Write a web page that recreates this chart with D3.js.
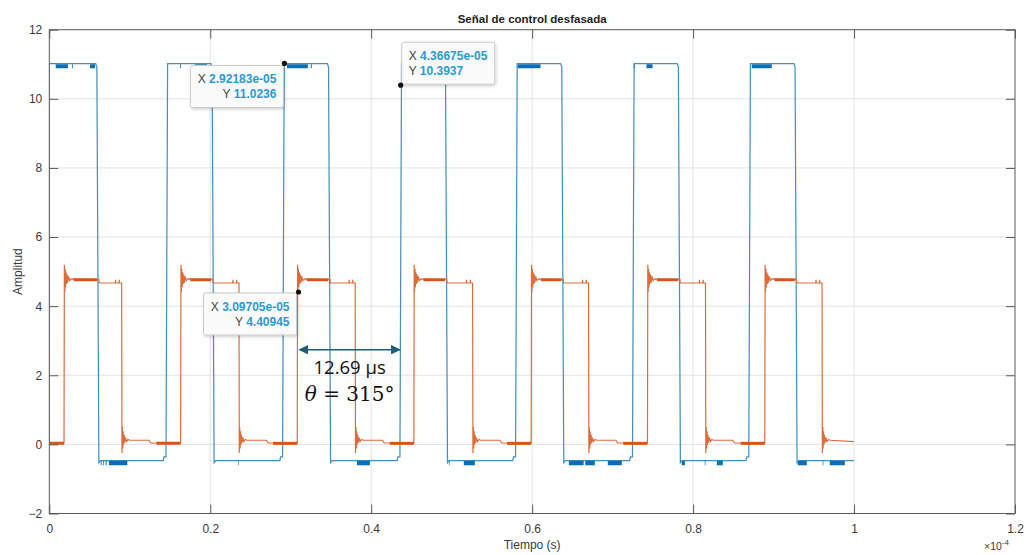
<!DOCTYPE html>
<html>
<head>
  <title>Señal de control desfasada</title>
  <meta charset="utf-8">
  <script src="https://d3js.org/d3.v7.min.js"></script>
  <style>
    body { margin: 0; background: #fff; }
    svg { font-family: "Liberation Sans", Arial, sans-serif; }
  </style>
</head>
<body>
<script>
  // tiempos en unidades de 1e-5 s
  const xTicks = [0, 0.2e-4, 0.4e-4, 0.6e-4, 0.8e-4, 1.0e-4, 1.2e-4];
  const yTicks = [-2, 0, 2, 4, 6, 8, 10, 12];

  const blueRise = [0, 1.450, 2.899, 4.357, 5.794, 7.247, 8.692];
  const blueFall = [0.596, 2.028, 3.475, 4.928, 6.373, 7.822, 9.272];
  const blueLevels = {high: 11.02, droop: 10.92, low: -0.47, undershoot: -0.53, preRise: -0.36};
  const blueHighBands = [[0.080, 0.232], [0.282, 0.292], [0.506, 0.568], [1.624, 1.634], [1.812, 1.959],
    [2.953, 3.213], [3.250, 3.262], [5.822, 6.104], [7.263, 7.272], [7.421, 7.496], [8.729, 8.977]];
  const blueLowBands = [[0.639, 0.650], [0.670, 0.680], [0.700, 0.712], [0.740, 0.969], [2.344, 2.352],
    [3.823, 3.984], [4.966, 4.974], [5.151, 5.288], [6.456, 6.640], [6.660, 6.779], [6.940, 7.114],
    [7.860, 7.898], [8.145, 8.153], [8.295, 8.369], [9.301, 9.413], [9.611, 9.619], [9.698, 9.885]];

  const orangeRise = [0.183, 1.632, 3.081, 4.530, 5.988, 7.433, 8.891];
  const orangeStep = [0.614, 2.030, 3.487, 4.937, 6.385, 7.835, 9.284];
  const orangeFall = [0.899, 2.357, 3.801, 5.260, 6.701, 8.154, 9.602];
  const orangeLevels = {low: 0.04, afterFall: 0.12, high: 4.78, step: 4.67, blip: 4.76, end: 0.08};
  const riseRing = [[0.004, 5.20], [0.009, 4.42], [0.014, 5.08], [0.019, 4.55], [0.025, 4.98], [0.031, 4.64],
    [0.038, 4.92], [0.046, 4.68], [0.056, 4.86], [0.070, 4.74], [0.090, 4.79]];
  const fallRing = [[0.004, -0.25], [0.009, 0.50], [0.014, -0.12], [0.019, 0.38], [0.025, 0.00], [0.031, 0.28],
    [0.038, 0.05], [0.047, 0.20], [0.060, 0.08], [0.078, 0.14], [0.100, 0.12]];
  const tEnd = 10.0;

  const dataTips = [
    {x: 2.92183e-5, y: 11.0236, xs: "2.92183e-05", ys: "11.0236", box: [-94, 2], align: "end"},
    {x: 4.36675e-5, y: 10.3937, xs: "4.36675e-05", ys: "10.3937", box: [1, -43], align: "start"},
    {x: 3.09705e-5, y: 4.40945, xs: "3.09705e-05", ys: "4.40945", box: [-95, 1], align: "end"}
  ];
  const gap = {from: 3.09705e-5, to: 4.36675e-5, y: 2.74, label: "12.69 µs", angle: "315°"};

  var width = 1025, height = 555;
  var margin = {top: 29.7, right: 10, bottom: 41.5, left: 49.3};

  var svg = d3.select("body").append("svg")
    .attr("width", width)
    .attr("height", height);

  var x = d3.scaleLinear()
    .domain([0, 1.2e-4])
    .range([margin.left, width - margin.right]);

  var y = d3.scaleLinear()
    .domain([-2, 12])
    .range([height - margin.bottom, margin.top]);

  var defs = svg.append("defs");
  defs.append("clipPath").attr("id", "plot")
    .append("rect")
      .attr("x", x(0)).attr("y", y(12))
      .attr("width", x(1.2e-4) - x(0)).attr("height", y(-2) - y(12));
  var shadow = defs.append("filter").attr("id", "shadow")
    .attr("x", "-20%").attr("y", "-20%").attr("width", "140%").attr("height", "150%");
  shadow.append("feDropShadow")
    .attr("dx", 1).attr("dy", 1.5).attr("stdDeviation", 1.5)
    .attr("flood-color", "#000").attr("flood-opacity", 0.18);
  defs.append("marker").attr("id", "arrow")
    .attr("viewBox", "0 0 10 10").attr("refX", 9).attr("refY", 5)
    .attr("markerWidth", 6).attr("markerHeight", 6).attr("orient", "auto-start-reverse")
    .append("path").attr("d", "M0,0L10,5L0,10z").attr("fill", "#1d5d7b");

  // rejilla
  svg.append("g")
    .attr("stroke", "#e3e3e3").attr("stroke-width", 1)
    .selectAll("line").data(xTicks.slice(1, -1)).join("line")
      .attr("x1", d => x(d)).attr("x2", d => x(d))
      .attr("y1", y(12)).attr("y2", y(-2));
  svg.append("g")
    .attr("stroke", "#e3e3e3").attr("stroke-width", 1)
    .selectAll("line").data(yTicks.slice(1, -1)).join("line")
      .attr("x1", x(0)).attr("x2", x(1.2e-4))
      .attr("y1", d => y(d)).attr("y2", d => y(d));

  // señales
  var T = 1e-5;
  var line = d3.line().x(d => x(d[0] * T)).y(d => y(d[1]));

  var bluePts = [[0, 0]];
  blueRise.forEach(function(r, i) {
    var f = blueFall[i];
    if (i > 0) {
      bluePts.push([r - 0.035, blueLevels.low], [r - 0.025, blueLevels.preRise], [r, blueLevels.preRise]);
    }
    bluePts.push([r + (i > 0 ? 0.02 : 0), blueLevels.high]);
    bluePts.push([f - 0.02, blueLevels.high], [f - 0.005, blueLevels.droop]);
    bluePts.push([f + 0.02, blueLevels.undershoot], [f + 0.04, blueLevels.low]);
  });
  bluePts.push([tEnd, blueLevels.low]);

  var orangePts = [[0, orangeLevels.low]];
  orangeRise.forEach(function(r, i) {
    var s = orangeStep[i], f = orangeFall[i];
    orangePts.push([r, orangeLevels.low]);
    riseRing.forEach(p => orangePts.push([r + p[0], p[1]]));
    orangePts.push([s, orangeLevels.high], [s + 0.006, orangeLevels.step]);
    orangePts.push([f - 0.078, orangeLevels.step], [f - 0.075, orangeLevels.blip], [f - 0.072, orangeLevels.step]);
    orangePts.push([f - 0.032, orangeLevels.step], [f - 0.029, orangeLevels.blip], [f - 0.026, orangeLevels.step]);
    orangePts.push([f, orangeLevels.step]);
    fallRing.forEach(p => orangePts.push([f + p[0], p[1]]));
    if (i < orangeRise.length - 1) {
      orangePts.push([f + 0.34, orangeLevels.afterFall], [f + 0.36, orangeLevels.low]);
    } else {
      orangePts.push([tEnd, orangeLevels.end]);
    }
  });

  var traces = svg.append("g").attr("clip-path", "url(#plot)").attr("fill", "none");

  traces.append("path")
    .datum(bluePts)
    .attr("stroke", "#4590bf")
    .attr("stroke-width", 1.25)
    .attr("d", line);

  traces.append("g")
    .attr("stroke", "#0b6fb8").attr("stroke-width", 4)
    .selectAll("line").data(blueHighBands).join("line")
      .attr("x1", d => x(d[0] * T)).attr("x2", d => x(d[1] * T))
      .attr("y1", y(blueLevels.high) + 2.6).attr("y2", y(blueLevels.high) + 2.6);
  traces.append("g")
    .attr("stroke", "#0b6fb8").attr("stroke-width", 4.5)
    .selectAll("line").data(blueLowBands).join("line")
      .attr("x1", d => x(d[0] * T)).attr("x2", d => x(d[1] * T))
      .attr("y1", y(blueLevels.low) + 2.4).attr("y2", y(blueLevels.low) + 2.4);

  traces.append("path")
    .datum(orangePts)
    .attr("stroke", "#dc6d3a")
    .attr("stroke-width", 1.2)
    .attr("d", line);

  // bandas de ruido de la señal naranja
  traces.append("g")
    .attr("stroke", "#d9541a").attr("stroke-width", 2.6)
    .selectAll("line").data(orangeRise).join("line")
      .attr("x1", d => x((d + 0.12) * T)).attr("x2", (d, i) => x((orangeStep[i] - 0.02) * T))
      .attr("y1", y(4.76)).attr("y2", y(4.76));
  traces.append("g")
    .attr("stroke", "#d9541a").attr("stroke-width", 3)
    .selectAll("line").data(orangeRise).join("line")
      .attr("x1", (d, i) => x((i == 0 ? 0 : d - 0.30) * T)).attr("x2", d => x(d * T))
      .attr("y1", y(0.03)).attr("y2", y(0.03));

  // ejes
  var axisColor = "#5a5a5a", textColor = "#3a3a3a";
  svg.append("rect")
    .attr("x", x(0)).attr("y", y(12))
    .attr("width", x(1.2e-4) - x(0)).attr("height", y(-2) - y(12))
    .attr("fill", "none").attr("stroke", axisColor).attr("stroke-width", 1);

  var fmtX = d => d3.format("~g")(+(d * 1e4).toFixed(2));

  svg.append("g")
    .attr("transform", `translate(0,${y(-2)})`)
    .call(d3.axisBottom(x).tickValues(xTicks).tickSize(-9).tickPadding(11).tickFormat(fmtX))
    .call(g => g.select(".domain").remove())
    .call(g => g.selectAll(".tick line").attr("stroke", axisColor))
    .call(g => g.selectAll("text").attr("fill", textColor).style("font-size", "12px").style("font-family", "Liberation Sans"));
  svg.append("g")
    .attr("transform", `translate(0,${y(12)})`)
    .call(d3.axisTop(x).tickValues(xTicks).tickSize(-9).tickFormat(""))
    .call(g => g.select(".domain").remove())
    .call(g => g.selectAll(".tick line").attr("stroke", axisColor));
  svg.append("g")
    .attr("transform", `translate(${x(0)},0)`)
    .call(d3.axisLeft(y).tickValues(yTicks).tickSize(-9).tickPadding(7).tickFormat(d3.format("d")))
    .call(g => g.select(".domain").remove())
    .call(g => g.selectAll(".tick line").attr("stroke", axisColor))
    .call(g => g.selectAll("text").attr("fill", textColor).style("font-size", "12px").style("font-family", "Liberation Sans"));
  svg.append("g")
    .attr("transform", `translate(${x(1.2e-4)},0)`)
    .call(d3.axisRight(y).tickValues(yTicks).tickSize(-9).tickFormat(""))
    .call(g => g.select(".domain").remove())
    .call(g => g.selectAll(".tick line").attr("stroke", axisColor));

  svg.append("text")
    .attr("x", (x(0) + x(1.2e-4)) / 2).attr("y", 23)
    .attr("text-anchor", "middle")
    .attr("font-weight", "bold").attr("font-size", "11.5px").attr("fill", "#222")
    .text("Señal de control desfasada");
  svg.append("text")
    .attr("x", (x(0) + x(1.2e-4)) / 2).attr("y", 549)
    .attr("text-anchor", "middle")
    .attr("font-size", "12px").attr("fill", textColor)
    .text("Tiempo (s)");
  svg.append("text")
    .attr("transform", `translate(22,${(y(12) + y(-2)) / 2}) rotate(-90)`)
    .attr("text-anchor", "middle")
    .attr("font-size", "12px").attr("fill", textColor)
    .text("Amplitud");
  var expo = svg.append("text")
    .attr("x", 984).attr("y", 550)
    .attr("font-size", "10.5px").attr("fill", textColor);
  expo.append("tspan").text("×10");
  expo.append("tspan").attr("dy", -5).attr("font-size", "8px").text("-4");

  // flecha de desfase
  svg.append("line")
    .attr("x1", x(gap.from) + 1).attr("x2", x(gap.to) - 1)
    .attr("y1", y(gap.y)).attr("y2", y(gap.y))
    .attr("stroke", "#1d5d7b").attr("stroke-width", 1.6)
    .attr("marker-start", "url(#arrow)").attr("marker-end", "url(#arrow)");
  var mid = (x(gap.from) + x(gap.to)) / 2;
  svg.append("text")
    .attr("x", mid).attr("y", y(gap.y) + 24)
    .attr("text-anchor", "middle")
    .attr("font-size", "18.5px").attr("fill", "#111")
    .style("font-family", "'Open Sans', 'Liberation Sans', sans-serif")
    .text(gap.label);
  var th = svg.append("text")
    .attr("x", mid).attr("y", y(gap.y) + 51)
    .attr("text-anchor", "middle")
    .attr("font-size", "20px").attr("fill", "#111")
    .style("font-family", "'DejaVu Serif', serif");
  th.append("tspan").attr("font-style", "italic").text("θ");
  th.append("tspan").text(" = " + gap.angle);

  // datatips
  var tips = svg.append("g").selectAll("g").data(dataTips).join("g")
    .attr("transform", d => `translate(${x(d.x)},${y(d.y)})`);

  tips.each(function(d) {
    var g = d3.select(this);
    var bx = d.box[0], by = d.box[1], bw = 93, bh = 42;
    g.append("rect")
      .attr("x", bx).attr("y", by).attr("width", bw).attr("height", bh)
      .attr("rx", 2)
      .attr("fill", "#fbfbfb").attr("stroke", "#c9c9c9").attr("stroke-width", 1)
      .attr("filter", "url(#shadow)");
    var tx = d.align == "end" ? bx + bw - 7 : bx + 7;
    [["X", d.xs], ["Y", d.ys]].forEach(function(row, k) {
      var t = g.append("text")
        .attr("x", tx).attr("y", by + 18 + k * 15)
        .attr("text-anchor", d.align)
        .attr("font-size", "12px");
      t.append("tspan").attr("fill", "#444").text(row[0] + " ");
      t.append("tspan").attr("fill", "#2a9ad6").attr("font-weight", "bold").text(row[1]);
    });
    g.append("circle").attr("r", 2.6).attr("fill", "#111");
  });
</script>
</body>
</html>
